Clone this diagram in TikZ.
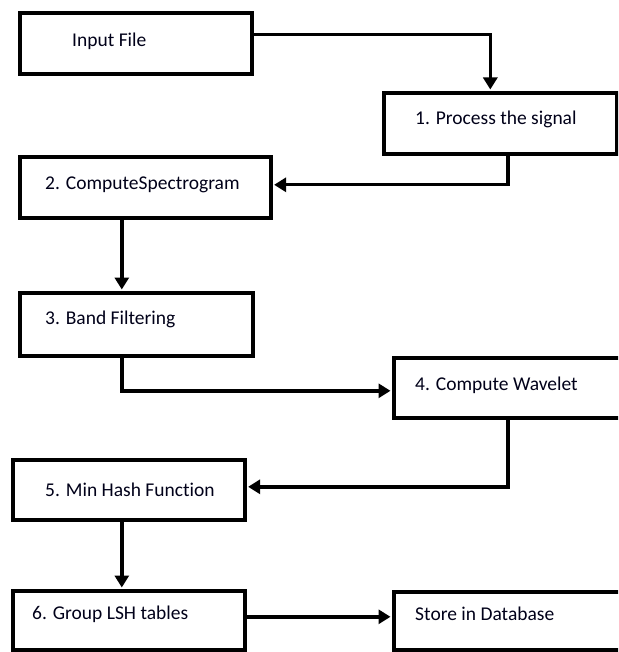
\documentclass[tikz,border=0pt]{standalone}
\usepackage{fontspec}
\setmainfont[Ligatures=NoCommon]{Carlito}
\usetikzlibrary{arrows.meta,calc}

\begin{document}
\begin{tikzpicture}[x=1pt,y=-1pt,
  box/.style={draw, line width=3.6pt, rectangle, inner sep=0pt, anchor=north west},
  lbl/.style={inner sep=0pt, anchor=west, font=\fontsize{19.5}{23}\selectfont, text=black!90!blue},
  flow/.style={line width=3.4pt, shorten >=1.5pt, -{Triangle[length=12pt,width=14pt]}}]
  \useasboundingbox (0,0) rectangle (618,652);
  \clip (0,0) rectangle (618,652);
  \fill[white] (0,0) rectangle (618,652);

  % process boxes
  \node[box, minimum width=232pt, minimum height=61pt] (b0) at (18,11) {};
  \node[box, minimum width=233pt, minimum height=61pt] (b1) at (382,91) {};
  \node[box, minimum width=251pt, minimum height=61pt] (b2) at (18,155) {};
  \node[box, minimum width=233pt, minimum height=63pt] (b3) at (18,291) {};
  \node[box, minimum width=248pt, minimum height=60pt] (b4) at (392,356) {};
  \node[box, minimum width=232pt, minimum height=60pt] (b5) at (11,458) {};
  \node[box, minimum width=232pt, minimum height=59pt] (b6) at (11,589) {};
  \node[box, minimum width=248pt, minimum height=58pt] (b7) at (392,590) {};

  % box captions
  \node[lbl] (t0) at ($(b0.west)+(54,-1.5)$) {Input File};
  \node[lbl] (t1) at ($(b1.west)+(33,-3.5)$) {1. Process the signal};
  \node[lbl] (t2) at ($(b2.west)+(27,-2.5)$) {2. ComputeSpectrogram};
  \node[lbl] (t3) at ($(b3.west)+(27,-4.5)$) {3. Band Filtering};
  \node[lbl] (t4) at ($(b4.west)+(23,-3)$) {4. Compute Wavelet};
  \node[lbl] (t5) at ($(b5.west)+(34,0)$) {5. Min Hash Function};
  \node[lbl] (t6) at ($(b6.west)+(21,-6.5)$) {6. Group LSH tables};
  \node[lbl] (t7) at ($(b7.west)+(23,-7)$) {Store in Database};

  % connectors
  \draw[flow] ([yshift=8.5pt]b0.east) -| ([xshift=-10pt]b1.north);
  \draw[flow] ([xshift=7.5pt]b1.south) |- ([yshift=2.5pt]b2.east);
  \draw[flow] ([xshift=-23.5pt]b2.south) -- ([xshift=-23.5pt]b2.south |- b3.north);
  \draw[flow] ([xshift=-14.5pt]b3.south) |- ([yshift=-3pt]b4.west);
  \draw[flow] ([xshift=-10pt]b4.south) |- ([yshift=3pt]b5.east);
  \draw[flow] ([xshift=-7pt]b5.south) -- ([xshift=-7pt]b5.south |- b6.north);
  \draw[flow] ([yshift=3.5pt]b6.east) -- ([yshift=3.5pt]b6.east -| b7.west);
\end{tikzpicture}
\end{document}
